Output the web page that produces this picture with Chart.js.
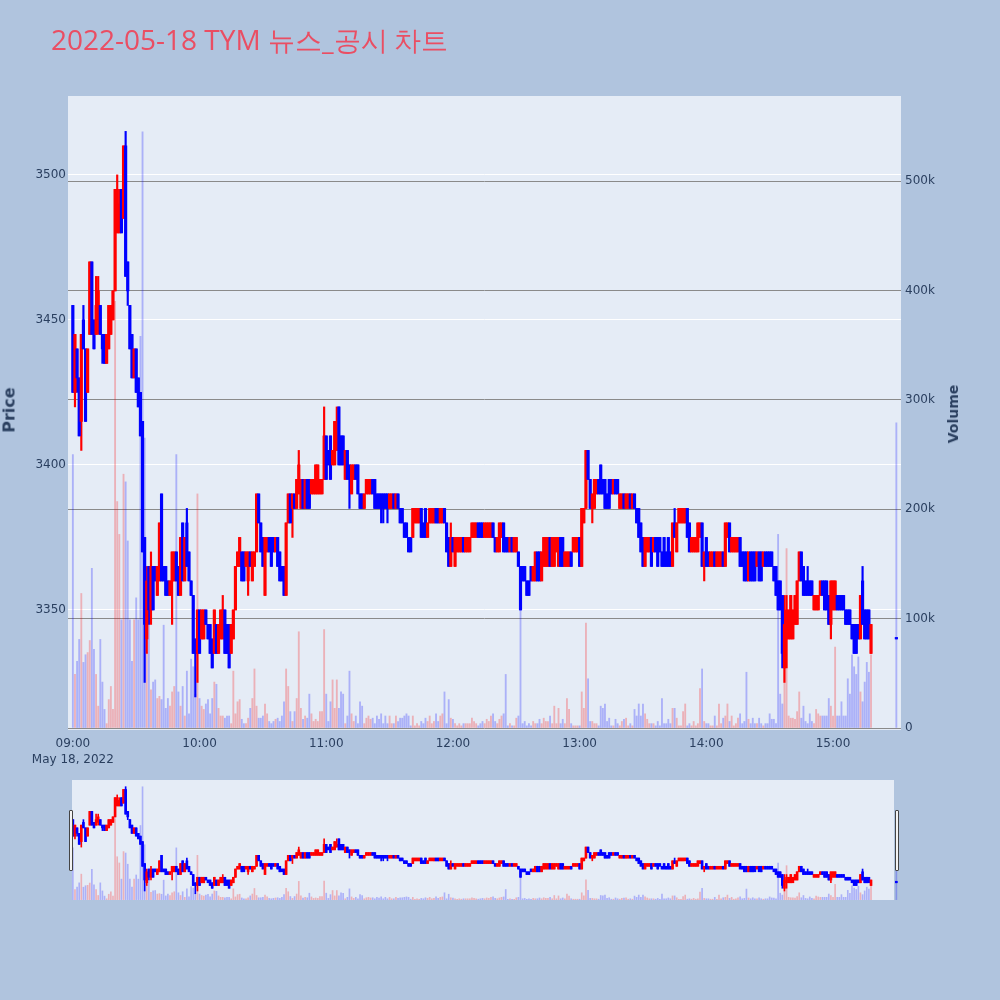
<!DOCTYPE html>
<html>
<head>
<meta charset="utf-8">
<title>TYM 뉴스_공시 차트</title>
<script src="https://cdn.jsdelivr.net/npm/chart.js@4.4.1/dist/chart.umd.min.js"></script>
<style>
  html, body { margin: 0; padding: 0; }
  body { width: 1000px; height: 1000px; background: #b0c4de; position: relative; overflow: hidden; font-family: "DejaVu Sans", Verdana, sans-serif; }
  #mainChart { position: absolute; left: 0; top: 0; }
  #sliderBg { position: absolute; left: 72px; top: 780px; width: 822px; height: 120px; background: #e5ecf6; }
  #sliderChart { position: absolute; left: 68px; top: 780px; }
  .grabber { position: absolute; top: 810px; width: 2px; height: 59px; background: #f4f4f4; border: 1px solid #444; border-radius: 1px; }
  #title { position: absolute; left: 51px; top: 25px; font: 28px/28px "Open Sans", sans-serif; color: #ea4e63; white-space: nowrap; }
  #title .ko { font-size: 26.5px; }
  .axis-title { position: absolute; font: bold 14px "DejaVu Sans", sans-serif; color: #2a3f5f; transform: translate(-50%, -50%) rotate(-90deg); white-space: nowrap; }
</style>
</head>
<body>
<canvas id="mainChart" width="1000" height="1000"></canvas>
<div id="sliderBg"></div>
<canvas id="sliderChart" width="833" height="120"></canvas>
<div class="grabber" style="left:69px"></div>
<div class="grabber" style="left:895px"></div>
<div id="title">2022-05-18 TYM <span class="ko">뉴스_공시 차트</span></div>
<div class="axis-title" style="left:9px; top:410px; font-size:16px">Price</div>
<div class="axis-title" style="left:953px; top:414px">Volume</div>
<script>
// one candle per minute from 09:00 to 15:18, then the 15:30 closing auction
const opens = [
  3455,3425,3440,3430,3415,3450,3440,3425,3445,3470, 3450,3445,3450,3455,3445,3445,3435,3440,3445,3450,
  3460,3480,3480,3495,3485,3510,3470,3455,3445,3430, 3440,3430,3425,3415,3375,3340,3365,3350,3365,3365,
  3355,3360,3390,3365,3365,3360,3355,3360,3360,3370, 3365,3355,3380,3360,3380,3370,3360,3355,3340,3335,
  3350,3340,3340,3350,3345,3345,3340,3335,3345,3335, 3340,3340,3350,3345,3345,3335,3340,3350,3365,3365,
  3370,3370,3365,3360,3370,3360,3365,3370,3390,3380, 3375,3355,3370,3375,3375,3375,3370,3375,3370,3365,
  3365,3355,3380,3390,3385,3390,3385,3390,3385,3395, 3385,3395,3395,3390,3390,3390,3390,3390,3390,3395,
  3410,3405,3410,3400,3400,3405,3420,3410,3410,3395, 3405,3400,3390,3395,3400,3400,3390,3390,3385,3390,
  3390,3390,3395,3395,3390,3390,3390,3390,3390,3390, 3385,3385,3390,3385,3390,3385,3385,3380,3380,3375,
  3375,3375,3380,3380,3380,3385,3380,3385,3375,3380, 3380,3380,3385,3385,3380,3380,3385,3380,3375,3365,
  3375,3365,3370,3370,3370,3375,3370,3370,3370,3375, 3375,3375,3380,3380,3380,3375,3375,3375,3375,3380,
  3375,3370,3370,3375,3380,3375,3375,3370,3375,3370, 3370,3370,3365,3365,3365,3360,3360,3365,3360,3360,
  3370,3370,3360,3365,3365,3365,3375,3365,3365,3370, 3365,3375,3375,3365,3365,3365,3370,3370,3370,3370,
  3375,3365,3380,3385,3405,3395,3385,3385,3390,3395, 3400,3395,3395,3390,3395,3395,3390,3395,3395,3385,
  3385,3390,3385,3385,3390,3385,3390,3385,3385,3380, 3375,3365,3370,3370,3375,3370,3375,3375,3375,3370,
  3375,3370,3375,3370,3365,3380,3370,3380,3380,3380, 3380,3385,3380,3370,3370,3370,3370,3375,3380,3365,
  3375,3370,3365,3365,3370,3365,3365,3365,3370,3365, 3375,3380,3370,3370,3370,3370,3375,3370,3370,3370,
  3360,3370,3370,3370,3365,3370,3370,3365,3370,3370, 3370,3370,3365,3365,3360,3360,3355,3330,3340,3340,
  3340,3340,3345,3345,3360,3370,3365,3360,3360,3360, 3360,3350,3350,3350,3355,3360,3360,3360,3355,3345,
  3350,3350,3355,3355,3355,3355,3350,3350,3350,3345, 3345,3345,3345,3340,3360,3350,3350,3350,3335,
  3340
];
const highs = [
  3455,3445,3440,3430,3445,3455,3440,3440,3470,3470, 3450,3465,3465,3455,3445,3445,3445,3455,3455,3460,
  3495,3500,3495,3495,3510,3515,3470,3455,3445,3440, 3440,3430,3425,3415,3375,3365,3365,3370,3365,3365,
  3365,3380,3390,3365,3365,3360,3360,3370,3370,3370, 3365,3375,3380,3375,3385,3370,3360,3355,3340,3350,
  3350,3350,3350,3350,3345,3345,3340,3350,3345,3345, 3350,3355,3350,3345,3345,3345,3350,3365,3370,3375,
  3370,3370,3370,3370,3370,3370,3370,3390,3390,3380, 3375,3375,3375,3375,3375,3375,3375,3375,3370,3365,
  3365,3380,3390,3390,3390,3390,3395,3405,3395,3395, 3395,3395,3395,3395,3395,3400,3400,3395,3395,3420,
  3410,3405,3410,3405,3415,3420,3420,3410,3410,3405, 3405,3400,3400,3400,3400,3400,3390,3390,3390,3395,
  3395,3395,3395,3395,3390,3390,3390,3390,3390,3390, 3390,3390,3390,3390,3390,3385,3385,3380,3380,3375,
  3375,3385,3385,3385,3385,3385,3380,3385,3380,3385, 3385,3385,3385,3385,3385,3385,3385,3380,3375,3380,
  3375,3375,3375,3375,3375,3375,3375,3375,3375,3380, 3380,3380,3380,3380,3380,3380,3380,3380,3380,3380,
  3375,3375,3380,3380,3380,3375,3375,3375,3375,3375, 3375,3370,3365,3365,3365,3360,3360,3365,3365,3370,
  3370,3370,3370,3375,3375,3375,3375,3375,3375,3375, 3375,3375,3375,3370,3370,3370,3370,3375,3375,3375,
  3375,3385,3385,3405,3405,3395,3390,3395,3395,3395, 3400,3395,3395,3390,3395,3395,3395,3395,3395,3390,
  3390,3390,3390,3390,3390,3390,3390,3385,3385,3380, 3375,3375,3375,3375,3375,3375,3375,3375,3375,3370,
  3375,3370,3375,3370,3380,3385,3380,3385,3385,3385, 3385,3385,3380,3375,3375,3375,3380,3380,3380,3370,
  3375,3370,3370,3370,3370,3370,3370,3370,3370,3380, 3380,3380,3375,3375,3375,3375,3375,3370,3370,3370,
  3370,3370,3370,3370,3370,3370,3370,3370,3370,3370, 3370,3370,3365,3365,3360,3360,3355,3355,3355,3350,
  3355,3350,3355,3360,3370,3370,3365,3360,3365,3360, 3360,3355,3355,3355,3360,3360,3360,3360,3355,3360,
  3360,3360,3355,3355,3355,3355,3350,3350,3350,3345, 3345,3345,3345,3355,3365,3350,3350,3350,3345,
  3340
];
const lows = [
  3425,3420,3425,3410,3405,3440,3415,3425,3445,3445, 3440,3445,3445,3445,3435,3435,3435,3440,3445,3450,
  3460,3480,3480,3480,3485,3465,3455,3440,3430,3430, 3425,3420,3410,3370,3325,3335,3345,3345,3350,3360,
  3355,3360,3360,3360,3355,3355,3355,3345,3360,3360, 3355,3355,3360,3360,3365,3360,3355,3335,3320,3325,
  3335,3340,3340,3345,3340,3335,3330,3335,3335,3335, 3340,3340,3335,3335,3330,3335,3340,3350,3365,3365,
  3360,3360,3365,3355,3365,3360,3365,3370,3380,3370, 3365,3355,3370,3370,3365,3370,3370,3365,3360,3360,
  3355,3355,3380,3380,3375,3385,3385,3390,3385,3385, 3385,3385,3385,3390,3390,3390,3390,3390,3390,3395,
  3395,3400,3395,3400,3400,3405,3400,3400,3400,3395, 3395,3385,3390,3395,3395,3390,3385,3385,3385,3390,
  3390,3390,3390,3385,3385,3385,3380,3380,3385,3380, 3385,3385,3385,3385,3385,3380,3380,3375,3375,3370,
  3370,3375,3380,3380,3380,3375,3375,3375,3375,3380, 3380,3380,3380,3380,3380,3380,3380,3370,3365,3365,
  3370,3365,3370,3370,3370,3370,3370,3370,3370,3375, 3375,3375,3375,3375,3375,3375,3375,3375,3375,3375,
  3370,3370,3370,3375,3370,3370,3370,3370,3370,3370, 3370,3365,3350,3360,3360,3355,3355,3360,3360,3360,
  3360,3360,3360,3365,3365,3365,3365,3365,3365,3370, 3365,3365,3365,3365,3365,3365,3365,3370,3370,3370,
  3365,3365,3380,3385,3395,3385,3380,3385,3390,3390, 3390,3390,3385,3385,3385,3390,3390,3390,3390,3385,
  3385,3385,3385,3385,3385,3385,3385,3380,3375,3370, 3365,3365,3370,3370,3365,3370,3370,3365,3370,3365,
  3365,3365,3365,3365,3365,3375,3370,3380,3380,3380, 3380,3375,3370,3370,3370,3370,3370,3375,3365,3360,
  3365,3365,3365,3365,3365,3365,3365,3365,3365,3365, 3375,3370,3370,3370,3370,3370,3365,3365,3360,3360,
  3360,3360,3360,3360,3365,3360,3360,3365,3365,3365, 3365,3365,3360,3355,3350,3350,3330,3325,3330,3340,
  3340,3340,3345,3345,3360,3360,3355,3355,3355,3355, 3355,3350,3350,3350,3355,3355,3350,3350,3345,3340,
  3350,3350,3350,3350,3350,3350,3345,3345,3345,3340, 3335,3335,3340,3340,3345,3340,3340,3340,3335,
  3340
];
const closes = [
  3425,3445,3430,3410,3445,3440,3415,3440,3470,3445, 3440,3455,3460,3445,3440,3435,3445,3455,3455,3460,
  3495,3495,3490,3480,3510,3465,3460,3440,3430,3440, 3425,3420,3410,3370,3345,3360,3350,3365,3350,3360,
  3365,3380,3360,3360,3355,3355,3360,3370,3370,3360, 3355,3375,3360,3375,3365,3360,3355,3335,3335,3350,
  3335,3350,3350,3345,3340,3335,3330,3350,3335,3345, 3350,3350,3335,3335,3330,3345,3350,3365,3370,3375,
  3360,3360,3370,3370,3365,3370,3370,3390,3380,3370, 3365,3375,3375,3370,3365,3370,3375,3365,3360,3360,
  3355,3380,3390,3380,3390,3385,3395,3400,3395,3385, 3395,3385,3385,3395,3395,3400,3400,3395,3395,3410,
  3395,3400,3395,3405,3415,3410,3400,3400,3400,3405, 3395,3395,3400,3400,3395,3390,3385,3385,3390,3395,
  3395,3395,3390,3385,3385,3385,3385,3385,3385,3385, 3390,3390,3385,3390,3385,3380,3380,3375,3375,3370,
  3370,3385,3385,3385,3385,3375,3375,3375,3380,3385, 3385,3385,3380,3380,3385,3385,3380,3370,3365,3375,
  3370,3375,3375,3375,3375,3370,3375,3375,3375,3380, 3380,3380,3375,3375,3375,3380,3380,3380,3380,3375,
  3370,3375,3380,3380,3370,3370,3370,3375,3370,3375, 3375,3365,3350,3360,3360,3355,3355,3360,3365,3370,
  3360,3360,3370,3375,3375,3375,3365,3375,3375,3375, 3375,3365,3365,3370,3370,3370,3365,3375,3375,3375,
  3365,3385,3385,3405,3395,3385,3390,3395,3395,3390, 3390,3390,3385,3385,3385,3390,3395,3390,3390,3390,
  3390,3385,3390,3390,3385,3390,3385,3380,3375,3370, 3365,3375,3375,3375,3365,3375,3370,3365,3370,3365,
  3365,3365,3365,3365,3380,3375,3380,3385,3385,3385, 3385,3375,3370,3375,3375,3375,3380,3380,3365,3370,
  3365,3365,3370,3370,3365,3370,3370,3370,3365,3380, 3380,3370,3375,3375,3375,3375,3365,3365,3360,3360,
  3370,3360,3360,3360,3370,3360,3360,3370,3365,3365, 3365,3365,3360,3355,3350,3350,3335,3345,3350,3350,
  3355,3350,3355,3360,3370,3360,3355,3355,3355,3355, 3355,3355,3355,3355,3360,3355,3350,3350,3345,3360,
  3360,3360,3350,3350,3350,3350,3345,3345,3345,3340, 3335,3335,3340,3355,3345,3340,3340,3340,3345,
  3340
];
// traded volume per minute, in thousands of shares
const volumes = [
  250,49,61,81,123,60,67,69,80,146, 72,49,20,81,42,17,4,26,38,17,
  390,207,177,99,232,225,171,99,61,99, 119,99,358,545,265,69,101,35,42,44,
  27,29,26,94,18,27,20,33,38,250, 33,20,38,11,52,13,63,56,31,214,
  27,20,17,22,26,13,27,42,40,18, 11,11,9,11,11,4,52,13,24,26,
  8,4,4,9,18,27,54,20,9,9, 11,22,13,6,4,6,8,9,6,11,
  24,54,38,15,6,15,27,88,18,8, 11,9,31,13,6,8,6,15,15,90,
  31,6,24,44,18,44,18,33,31,4, 11,52,13,6,11,4,24,20,4,9,
  11,8,9,4,11,8,13,4,11,4, 11,4,4,11,6,9,9,11,13,11,
  2,11,2,4,2,6,4,9,6,11, 4,6,13,6,11,13,33,4,26,9,
  8,4,2,4,2,4,4,4,4,9, 6,4,2,4,6,4,8,6,11,13,
  6,4,8,11,13,49,2,4,2,2, 9,11,110,4,6,2,4,2,6,4,
  4,8,4,9,6,6,11,4,20,4, 18,4,8,4,27,17,4,2,2,2,
  2,33,18,96,45,6,6,4,4,2, 20,18,22,6,9,2,2,8,4,2,
  6,8,9,2,4,2,17,11,22,11, 22,13,8,4,4,4,2,6,2,27,
  4,4,8,4,18,18,9,2,2,15, 22,2,4,2,6,2,4,36,54,6,
  4,4,2,2,11,2,22,4,9,11, 22,6,11,2,4,9,13,4,6,51,
  8,4,9,4,4,9,4,2,4,4, 13,8,8,4,177,31,22,56,164,11,
  9,9,8,15,33,9,20,6,4,13, 6,4,17,13,11,11,11,11,27,20,
  11,74,11,11,24,11,11,45,31,67, 56,49,65,33,24,42,60,51,67,
  279
];
const closingAuctionMinute = 390;   // 15:30, minutes after 09:00

const hourTicks = [0, 60, 120, 180, 240, 300, 360];
const hourLabels = ['09:00', '10:00', '11:00', '12:00', '13:00', '14:00', '15:00'];
const dateLabel = 'May 18, 2022';
const priceTicks = [3350, 3400, 3450, 3500];
const volumeTicks = [0, 100, 200, 300, 400, 500];

const timeRange = [-2.3, 392.2];
const priceRange = [3308.6, 3527.2];
const volumeRange = [-1.8, 577.7];

const UP = '#ff0000';
const DOWN = '#0000ff';
const UP_VOL = 'rgba(255, 0, 0, 0.25)';
const DOWN_VOL = 'rgba(0, 0, 255, 0.25)';
const tickColor = '#2a3f5f';
const tickFont = { family: '"DejaVu Sans", Verdana, sans-serif', size: 12, lineHeight: 1.35 };

const minuteAt = i => (i === closes.length - 1 ? closingAuctionMinute : i);
const rising = i => closes[i] > opens[i];

const bodyPoints = closes.map((c, i) => ({ x: minuteAt(i), y: [opens[i], c] }));
const wickPoints = closes.map((c, i) => ({ x: minuteAt(i), y: [lows[i], highs[i]] }));
const volumePoints = volumes.map((v, i) => ({ x: minuteAt(i), y: v }));
const candleColors = closes.map((c, i) => (rising(i) ? UP : DOWN));
const volumeColors = closes.map((c, i) => (rising(i) ? UP_VOL : DOWN_VOL));

function buildDatasets(bodyWidth, wickWidth, volWidth) {
  return [
    { data: bodyPoints, backgroundColor: candleColors, barThickness: bodyWidth, minBarLength: 1.5, grouped: false, order: 1, yAxisID: 'y' },
    { data: wickPoints, backgroundColor: candleColors, barThickness: wickWidth, minBarLength: 1, grouped: false, order: 2, yAxisID: 'y' },
    { data: volumePoints, backgroundColor: volumeColors, barThickness: volWidth, grouped: false, order: 3, yAxisID: 'y2' },
  ];
}

const plotBackground = {
  id: 'plotBackground',
  beforeDraw(chart) {
    const { ctx, chartArea: a } = chart;
    ctx.save();
    ctx.fillStyle = '#e5ecf6';
    ctx.fillRect(a.left, a.top, a.right - a.left, a.bottom - a.top);
    ctx.restore();
  },
};

const setTicks = values => scale => {
  scale.ticks = values.map(v => ({ value: v }));
};

new Chart(document.getElementById('mainChart'), {
  type: 'bar',
  data: { datasets: buildDatasets(2.5, 1.5, 1.2) },
  plugins: [plotBackground],
  options: {
    responsive: false,
    animation: false,
    events: [],
    layout: { padding: { top: 96, left: 0, right: 0, bottom: 0 } },
    plugins: { legend: { display: false }, tooltip: { enabled: false } },
    scales: {
      x: {
        type: 'linear',
        min: timeRange[0],
        max: timeRange[1],
        offset: false,
        afterFit: s => { s.height = 270; },
        afterBuildTicks: setTicks(hourTicks),
        grid: { display: false, offset: false },
        border: { display: false },
        ticks: {
          autoSkip: false,
          maxRotation: 0,
          padding: -2,
          color: tickColor,
          font: tickFont,
          callback: v => {
            const k = hourTicks.indexOf(v);
            return k === 0 ? [hourLabels[0], dateLabel] : hourLabels[k];
          },
        },
      },
      y: {
        position: 'left',
        min: priceRange[0],
        max: priceRange[1],
        afterFit: s => { s.width = 68; },
        afterBuildTicks: setTicks(priceTicks),
        grid: { color: '#ffffff', lineWidth: 1, drawTicks: false },
        border: { display: false },
        ticks: { padding: 2, color: tickColor, font: tickFont, callback: v => String(v) },
      },
      y2: {
        position: 'right',
        min: volumeRange[0],
        max: volumeRange[1],
        afterFit: s => { s.width = 99; },
        afterBuildTicks: setTicks(volumeTicks),
        grid: { color: '#8a8a8a', lineWidth: 1, drawTicks: false },
        border: { display: false },
        ticks: { padding: 4, color: tickColor, font: tickFont, callback: v => (v === 0 ? '0' : v + 'k') },
      },
    },
  },
});

// range slider preview underneath
new Chart(document.getElementById('sliderChart'), {
  type: 'bar',
  data: { datasets: buildDatasets(2, 1, 1) },
  options: {
    responsive: false,
    animation: false,
    events: [],
    layout: { padding: 0 },
    plugins: { legend: { display: false }, tooltip: { enabled: false } },
    scales: {
      x: { type: 'linear', min: timeRange[0], max: timeRange[1], offset: false, display: false },
      y: { min: priceRange[0], max: priceRange[1], display: false },
      y2: { min: volumeRange[0], max: volumeRange[1], display: false },
    },
  },
});
</script>
</body>
</html>
